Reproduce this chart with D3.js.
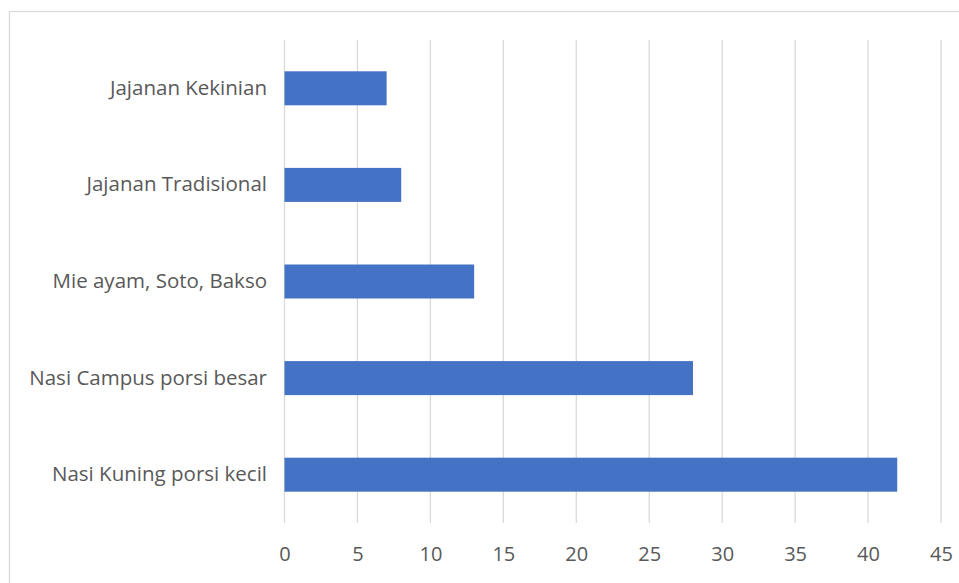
<!DOCTYPE html>
<html>
<head>
<meta charset="utf-8">
<script src="https://cdn.jsdelivr.net/npm/d3@7"></script>
<style>
  body { margin: 0; background: #fff; }
  #chart { width: 959px; height: 583px; }
  text { font-family: "Open Sans", "Noto Sans", sans-serif; fill: #595959; }
</style>
</head>
<body>
<div id="chart"></div>
<script>
// categories top to bottom, as in the picture
var categories = [
  "Jajanan Kekinian",
  "Jajanan Tradisional",
  "Mie ayam, Soto, Bakso",
  "Nasi Campus porsi besar",
  "Nasi Kuning porsi kecil"
];
var values = [7, 8, 13, 28, 42];
var xTicks = [0, 5, 10, 15, 20, 25, 30, 35, 40, 45];

var width = 959, height = 583;
var margin = {top: 40, left: 284.5};

var svg = d3.select("#chart").append("svg")
    .attr("width", width)
    .attr("height", height);

// chart area border
svg.append("rect")
    .attr("x", 9.5)
    .attr("y", 11.5)
    .attr("width", 960)
    .attr("height", 600)
    .attr("fill", "none")
    .attr("stroke", "#d9d9d9")
    .attr("stroke-width", 1.3);

var x = d3.scaleLinear()
    .domain([0, 45])
    .range([margin.left, 941]);

var y = d3.scaleBand()
    .domain(categories)
    .range([margin.top, 523])
    .paddingInner(0.648)
    .paddingOuter(0.324);

// vertical gridlines
svg.append("g")
    .selectAll("line")
    .data(xTicks)
    .enter().append("line")
    .attr("x1", function(d) { return x(d); })
    .attr("x2", function(d) { return x(d); })
    .attr("y1", margin.top)
    .attr("y2", 523)
    .attr("stroke", "#d9d9d9")
    .attr("stroke-width", 1.3);

// bars
svg.append("g")
    .selectAll("rect")
    .data(values)
    .enter().append("rect")
    .attr("x", x(0))
    .attr("y", function(d, i) { return y(categories[i]); })
    .attr("width", function(d) { return x(d) - x(0); })
    .attr("height", y.bandwidth())
    .attr("fill", "#4472c4");

// x axis labels
var xAxis = svg.append("g")
    .attr("transform", "translate(0,546)")
    .call(d3.axisBottom(x).tickValues(xTicks).tickSize(0).tickPadding(0));
xAxis.select(".domain").remove();
xAxis.selectAll("text")
    .attr("dy", "0.75em")
    .style("font-size", "20px")
    .attr("fill", "#595959");

// category labels
var yAxis = svg.append("g")
    .attr("transform", "translate(267,0)")
    .call(d3.axisLeft(y).tickSize(0).tickPadding(0));
yAxis.select(".domain").remove();
yAxis.selectAll("text")
    .style("font-size", "20.5px")
    .attr("fill", "#595959");
</script>
</body>
</html>
